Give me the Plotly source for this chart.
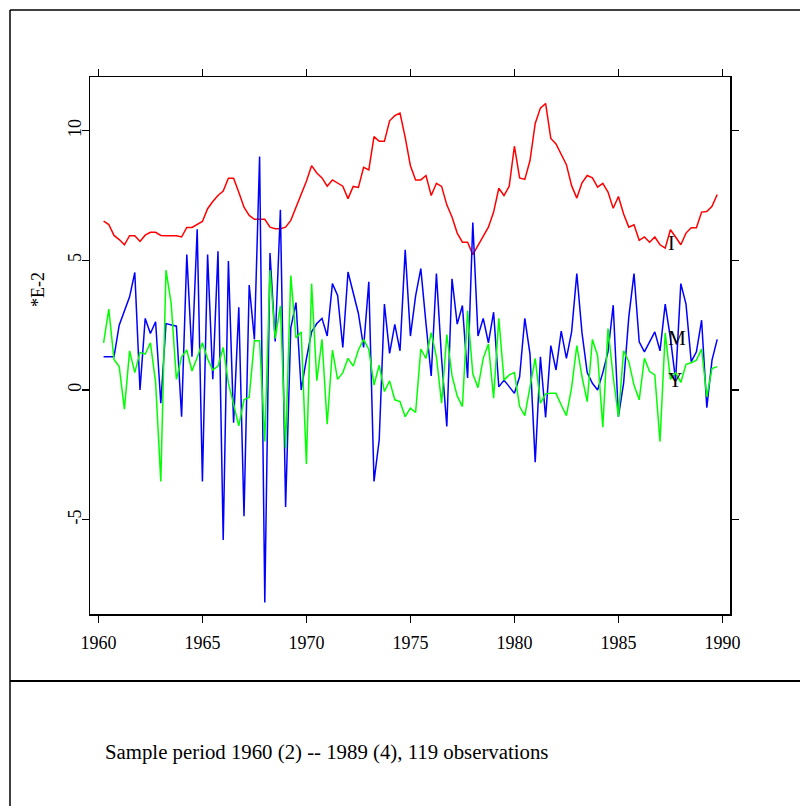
import plotly.graph_objects as go

# Quarterly observations, 1960 (2) -- 1989 (4), 119 observations
start_year = 1960
start_quarter = 2
n_obs = 119
dates = [start_year + (start_quarter - 1 + k) / 4.0 for k in range(n_obs)]

# Series I (red), values in units of 1E-2
I_vals = [6.51, 6.38, 5.96, 5.8, 5.6, 5.95, 5.95, 5.73, 5.97, 6.08,
          6.08, 5.96, 5.95, 5.95, 5.95, 5.9, 6.27, 6.27, 6.37, 6.5,
          6.99, 7.27, 7.5, 7.67, 8.17, 8.17, 7.63, 7.05, 6.73, 6.58,
          6.58, 6.58, 6.28, 6.22, 6.22, 6.28, 6.54, 7.05, 7.5, 8.05,
          8.65, 8.37, 8.18, 7.86, 8.1, 7.99, 7.86, 7.38, 7.85, 7.81,
          8.59, 8.49, 9.77, 9.59, 9.59, 10.38, 10.58, 10.68, 9.74, 8.65,
          8.1, 8.1, 8.27, 7.5, 7.97, 7.85, 7.14, 6.67, 6.05, 5.7,
          5.7, 5.22, 5.58, 5.96, 6.28, 6.86, 7.78, 7.5, 7.86, 9.4,
          8.18, 8.12, 8.85, 10.28, 10.87, 11.05, 9.7, 9.49, 9.08, 8.69,
          7.88, 7.4, 7.99, 8.27, 8.18, 7.82, 7.97, 7.63, 7.01, 7.46,
          6.79, 6.28, 6.37, 5.77, 5.9, 5.7, 5.9, 5.6, 5.47, 6.18,
          5.9, 5.6, 6.05, 6.26, 6.26, 6.86, 6.88, 7.08, 7.54]

# Series M (blue)
M_vals = [1.28, 1.28, 1.28, 2.5, 3.08, 3.59, 4.53, 0.0, 2.76, 2.18,
          2.63, -0.51, 2.56, 2.5, 2.46, -1.03, 5.22, 1.28, 6.2, -3.53,
          5.22, 0.41, 5.35, -5.79, 4.97, -1.26, 3.19, -4.87, 4.05, 1.95,
          9.0, -8.2, 5.28, 1.87, 6.95, -4.51, 2.4, 3.37, 0.0, 1.2,
          2.24, 2.56, 2.76, 2.08, 4.1, 3.65, 1.64, 4.55, 3.78, 2.95,
          1.64, 4.17, -3.53, -1.92, 3.31, 1.41, 2.53, 1.51, 5.41, 2.08,
          3.63, 4.68, 2.56, 0.54, 4.49, 1.2, -1.41, 4.29, 2.54, 3.26,
          0.46, 6.46, 2.08, 2.76, 1.82, 3.0, 0.12, 0.38, 0.13, -0.13,
          0.51, 2.76, 1.38, -2.79, 1.28, -1.06, 1.71, 0.77, 2.27, 1.22,
          2.24, 4.49, 2.2, 0.67, 0.26, 0.0, 0.67, 1.47, 3.27, -1.03,
          0.26, 2.82, 4.49, 1.86, 1.47, 1.86, 2.24, 1.51, 3.31, 2.0,
          0.38, 4.1, 3.31, 1.09, 1.47, 2.69, -0.68, 1.15, 1.95]

# Series Y (green)
Y_vals = [1.82, 3.12, 1.18, 0.9, -0.74, 1.51, 0.67, 1.45, 1.38, 1.82,
          0.3, -3.53, 4.62, 3.33, 0.41, 1.28, 1.54, 0.73, 1.25, 1.82,
          1.2, 0.77, 0.92, 1.64, 0.26, -0.51, -1.38, -0.38, -0.28, 1.9,
          1.9, -1.99, 4.62, 1.99, 3.24, -2.24, 4.41, 2.01, 2.24, -2.85,
          4.1, 0.36, 1.95, -1.32, 1.54, 0.41, 0.67, 1.22, 0.92, 1.54,
          1.95, 1.56, 0.19, 0.96, -0.06, 0.35, -0.38, -0.45, -1.03, -0.7,
          -0.87, 1.58, 1.22, 2.21, 1.28, -0.51, 2.14, 0.55, -0.23, -0.64,
          3.05, 0.62, 0.09, 1.22, 1.77, -0.32, 2.76, 0.38, 0.58, 0.67,
          -0.64, -0.99, 0.13, 1.22, -0.51, -0.15, -0.13, -0.13, -0.58, -0.99,
          0.09, 1.71, 0.51, -0.45, 1.95, 1.32, -1.44, 2.37, 0.5, -1.03,
          1.51, 1.09, 0.19, -0.38, 1.22, 0.71, 0.58, -1.99, 2.2, 0.41,
          0.67, 0.29, 0.99, 1.05, 1.15, 1.58, -0.26, 0.83, 0.9]

x_ticks = [1960, 1965, 1970, 1975, 1980, 1985, 1990]
y_ticks = [-5, 0, 5, 10]
y_ticktext = ["-5", "0", "5", "10"]

series_labels = ["I", "M", "Y"]
label_x = [1987.54, 1987.82, 1987.74]
label_y = [5.66, 2.01, 0.39]

FONT = "Liberation Serif, Times New Roman, serif"

# Plot area in window pixels (page margin removed by post_script below)
PL, PR, PT, PB = 90, 730, 77, 614
W, H = 800, 806


def px(fx):
    return (fx - PL) / (PR - PL)


def py(fy):
    return (PB - fy) / (PB - PT)


fig = go.Figure()
fig.add_trace(go.Scatter(x=dates, y=I_vals, mode="lines", name="I",
                         line=dict(color="#ff0000", width=1.5)))
fig.add_trace(go.Scatter(x=dates, y=M_vals, mode="lines", name="M",
                         line=dict(color="#0000ff", width=1.5)))
fig.add_trace(go.Scatter(x=dates, y=Y_vals, mode="lines", name="Y",
                         line=dict(color="#00ff00", width=1.5)))

annotations = []
for lab, lx, ly in zip(series_labels, label_x, label_y):
    annotations.append(dict(x=lx, y=ly, xref="x", yref="y", text=lab,
                            showarrow=False, font=dict(family=FONT, size=20, color="black")))

annotations.append(dict(x=px(38), y=py(290), xref="paper", yref="paper",
                        text="*E-2", textangle=-90, showarrow=False,
                        xanchor="center", yanchor="middle",
                        font=dict(family=FONT, size=18, color="black")))
annotations.append(dict(x=px(103), y=py(752), xref="paper", yref="paper",
                        text="Sample period 1960 (2) -- 1989 (4), 119 observations",
                        xanchor="left", yanchor="middle", showarrow=False,
                        font=dict(family=FONT, size=20.8, color="black")))

border = dict(color="black", width=1.5)
shapes = [
    # outer frame: top and left edges (right/bottom lie outside the window)
    dict(type="line", xref="paper", yref="paper",
         x0=px(10), x1=px(830), y0=py(10), y1=py(10), line=border),
    dict(type="line", xref="paper", yref="paper",
         x0=px(10), x1=px(10), y0=py(10), y1=py(840), line=border),
    # separator above the footnote
    dict(type="line", xref="paper", yref="paper",
         x0=px(10), x1=px(830), y0=py(681), y1=py(681),
         line=dict(color="black", width=1.8)),
]

fig.update_layout(
    width=W, height=H,
    margin=dict(l=PL, r=W - PR, t=PT, b=H - PB, pad=0),
    paper_bgcolor="white", plot_bgcolor="white",
    showlegend=False,
    hovermode=False,
    font=dict(family=FONT, size=18, color="black"),
    annotations=annotations,
    shapes=shapes,
    xaxis=dict(range=[1959.596, 1990.365], tickvals=x_ticks, ticktext=[str(v) for v in x_ticks],
               showgrid=False, zeroline=False, showline=True, linecolor="black", linewidth=1.5,
               mirror="allticks", ticks="outside", ticklen=7, tickwidth=1.3, tickcolor="black",
               ticklabelstandoff=5,
               tickfont=dict(family=FONT, size=18, color="black")),
    yaxis=dict(range=[-8.64, 12.07], tickvals=y_ticks, ticktext=y_ticktext,
               showgrid=False, zeroline=False, showline=True, linecolor="black", linewidth=1.5,
               mirror="allticks", ticks="outside", ticklen=7, tickwidth=1.3, tickcolor="black",
               tickangle=-90, ticklabelstandoff=-7,
               tickfont=dict(family=FONT, size=18, color="black")),
)

fig.write_html(
    "out.html",
    config={"displayModeBar": False, "staticPlot": True},
    post_script="document.body.style.margin='0';document.body.style.overflow='hidden';"
                "document.documentElement.style.overflow='hidden';",
)
